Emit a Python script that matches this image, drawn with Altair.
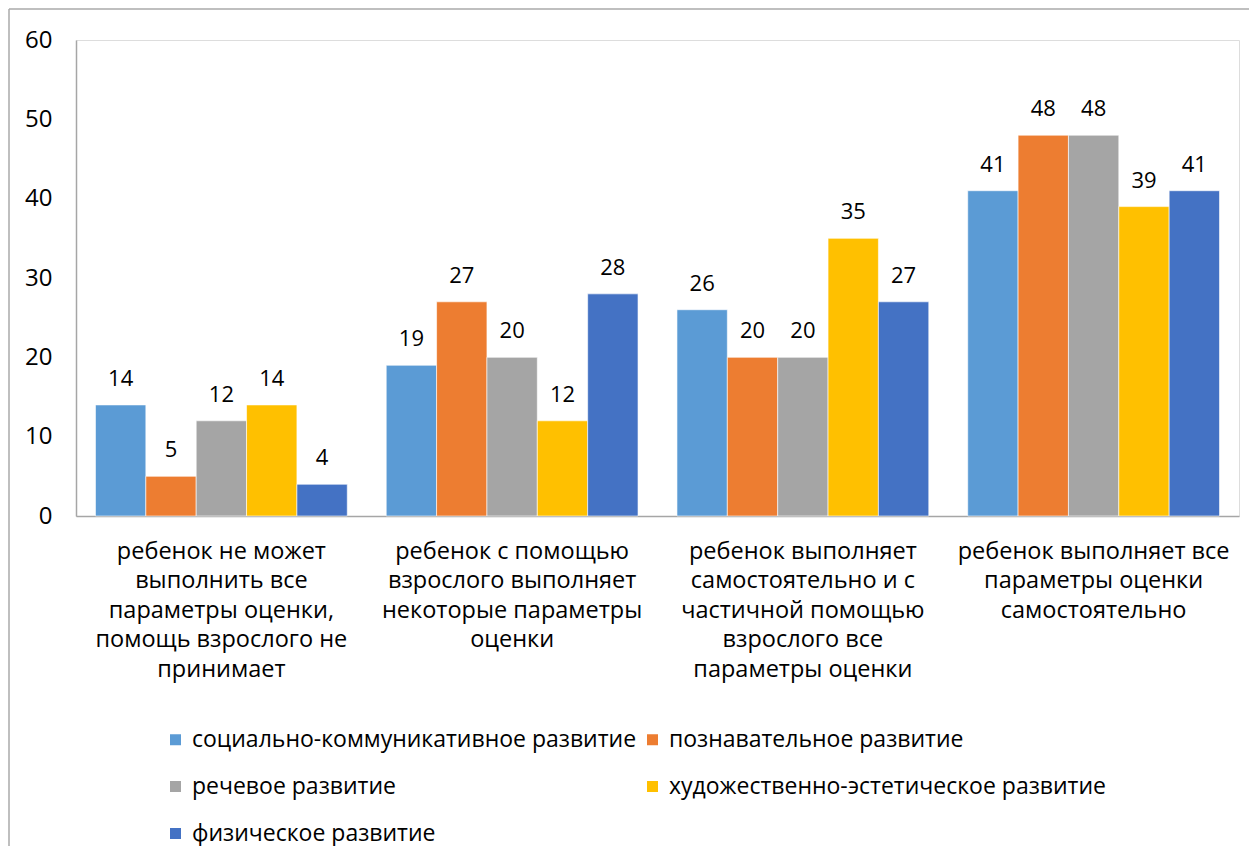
import altair as alt
import pandas as pd

categories = [
    "ребенок не может|выполнить все|параметры оценки,|помощь взрослого не|принимает",
    "ребенок с помощью|взрослого выполняет|некоторые параметры|оценки",
    "ребенок выполняет|самостоятельно и с|частичной помощью|взрослого все|параметры оценки",
    "ребенок выполняет все|параметры оценки|самостоятельно",
]
series = [
    "социально-коммуникативное развитие",
    "познавательное развитие",
    "речевое развитие",
    "художественно-эстетическое развитие",
    "физическое развитие",
]
social = [14, 19, 26, 41]
cognitive = [5, 27, 20, 48]
speech = [12, 20, 20, 48]
artistic = [14, 12, 35, 39]
physical = [4, 28, 27, 41]
colors = ["#5B9BD5", "#ED7D31", "#A5A5A5", "#FFC000", "#4472C4"]

rows = []
for s, vals in zip(series, [social, cognitive, speech, artistic, physical]):
    for c, v in zip(categories, vals):
        rows.append({"cat": c, "series": s, "value": v})
df = pd.DataFrame(rows)

FONT = "Open Sans"
W, H = 1163, 476

x_enc = alt.X(
    "cat:N",
    sort=categories,
    title=None,
    scale=alt.Scale(paddingInner=0.134, paddingOuter=0.067),
    axis=alt.Axis(
        labelExpr="split(datum.label, '|')",
        labelAngle=0,
        labelFontSize=23.5,
        labelFont=FONT,
        labelColor="#000000",
        labelLineHeight=29.5,
        labelPadding=23,
        labelLimit=0,
        ticks=False,
        domainColor="#A6A6A6",
        domainWidth=1.5,
    ),
)
y_enc = alt.Y(
    "value:Q",
    title=None,
    scale=alt.Scale(domain=[0, 60], nice=False),
    axis=alt.Axis(
        values=[0, 10, 20, 30, 40, 50, 60],
        grid=False,
        ticks=False,
        labelFontSize=24,
        labelFont=FONT,
        labelColor="#000000",
        labelPadding=24,
        domainColor="#A6A6A6",
        domainWidth=1.5,
    ),
)
xoff = alt.XOffset("series:N", sort=series)

bars = alt.Chart(df).mark_bar(stroke="#ffffff", strokeWidth=0.6).encode(
    x=x_enc,
    y=y_enc,
    xOffset=xoff,
    color=alt.Color(
        "series:N",
        sort=series,
        scale=alt.Scale(domain=series, range=colors),
        legend=alt.Legend(
            title=None,
            orient="none",
            legendX=88,
            legendY=688,
            direction="horizontal",
            columns=2,
            symbolType="square",
            symbolSize=121,
            symbolStrokeWidth=0,
            labelFontSize=23,
            labelFont=FONT,
            labelColor="#000000",
            labelLimit=0,
            labelOffset=5,
            rowPadding=23,
            columnPadding=4,
        ),
    ),
)

labels = alt.Chart(df).mark_text(
    baseline="bottom", dy=-14, fontSize=22, font=FONT, color="#000000"
).encode(
    x=alt.X("cat:N", sort=categories),
    y=alt.Y("value:Q"),
    xOffset=xoff,
    text=alt.Text("value:Q"),
)

frame_data = alt.Data(values=[{"k": 1}])
left_border = alt.Chart(frame_data).mark_rule(color="#AAAAAA", strokeWidth=1.5).encode(
    x=alt.value(-67), y=alt.value(-31), y2=alt.value(900)
)
top_border = alt.Chart(frame_data).mark_rule(color="#AAAAAA", strokeWidth=1.5).encode(
    x=alt.value(-67), x2=alt.value(1300), y=alt.value(-31)
)

chart = alt.layer(bars, labels, left_border, top_border).properties(
    width=W,
    height=H,
    autosize=alt.AutoSizeParams(type="none"),
    padding={"left": 68, "top": 32, "right": 10, "bottom": 330},
).configure_view(stroke=None).configure(background="#ffffff")

chart.save("out.html", embed_options={"renderer": "svg", "actions": False})
